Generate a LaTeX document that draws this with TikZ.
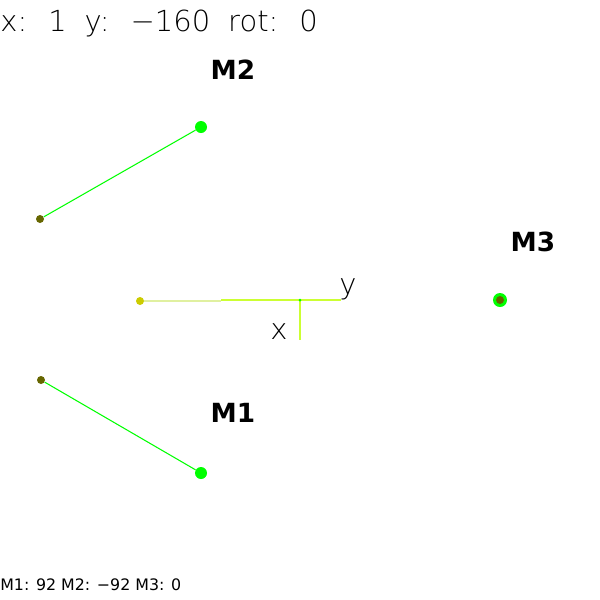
\documentclass[tikz,border=0pt]{standalone}
\usepackage{fontspec}
\setmainfont{DejaVu Sans}
\newfontfamily\thinfont{DejaVu Sans ExtraLight}
\usetikzlibrary{positioning}
\definecolor{wheel}{HTML}{00FF00}
\definecolor{hub}{HTML}{666600}
\definecolor{base}{HTML}{CCCC00}
\definecolor{axis}{HTML}{CCFF33}
\definecolor{axislight}{HTML}{E0F0A0}

\begin{document}
\begin{tikzpicture}[
  wd/.style={circle, fill=wheel, inner sep=0pt, minimum size=0.24cm},
  hd/.style={circle, fill=hub, inner sep=0pt, minimum size=0.16cm},
  lbl/.style={font=\fontsize{15}{15}\selectfont\bfseries, inner sep=0pt},
  thin/.style={font=\thinfont\fontsize{16.5}{16.5}\selectfont, inner sep=0pt},
  link/.style={wheel, line width=0.6pt}
]
  \useasboundingbox[fill=white] (0,0) rectangle (12,-12);
  % status text
  \node[thin, anchor=base west] (st) at (0,-0.62) {\spaceskip=0.62em x: 1 y: −160 rot: 0};
  \node[font=\fontsize{9}{9}\selectfont, inner sep=0pt, anchor=base west] (mv) at (0,-11.8) {M1: 92 M2: −92 M3: 0};
  % motors
  \node[wd] (w2) at (4.02,-2.54) {};
  \node[hd] (h2) at (0.8,-4.38) {};
  \node[wd] (w1) at (4.02,-9.46) {};
  \node[hd] (h1) at (0.82,-7.6) {};
  \node[wd, minimum size=0.28cm] (w3) at (10,-6) {};
  \node[hd] (h3) at (10,-6) {};
  \draw[link] (h2) -- (w2);
  \draw[link] (h1) -- (w1);
  \node[lbl] (l2) at (4.66,-1.4) {M2};
  \node[lbl] (l3) at (10.66,-4.84) {M3};
  \node[lbl] (l1) at (4.66,-8.26) {M1};
  % robot frame
  \node[hd, fill=base] (b) at (2.8,-6.02) {};
  \coordinate (m) at (4.42,-6.02);
  \coordinate (o) at (6,-6);
  \coordinate (ye) at (6.82,-6);
  \coordinate (xe) at (6,-6.8);
  \draw[axislight, line width=0.6pt] (b) -- (m);
  \draw[axis, line width=0.6pt] (m |- o) -- (ye);
  \draw[axis, line width=0.6pt] (o) -- (xe);
  \node[circle, fill=wheel, inner sep=0pt, minimum size=0.06cm] (c) at (o) {};
  \node[thin] (ly) at (6.96,-5.78) {y};
  \node[thin] (lx) at (5.58,-6.64) {x};
\end{tikzpicture}
\end{document}
